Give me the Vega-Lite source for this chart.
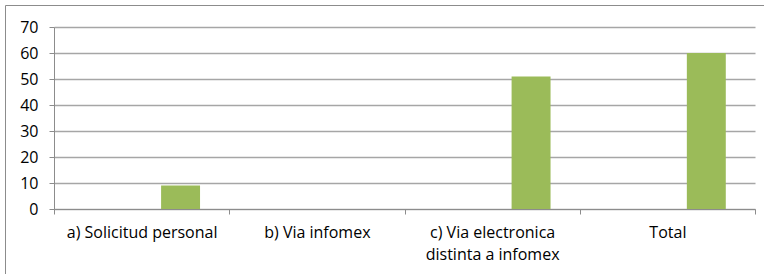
{
  "$schema": "https://vega.github.io/schema/vega-lite/v6.json",
  "autosize": "none",
  "padding": {"left": 5, "top": 5, "right": 0, "bottom": 0},
  "width": 775,
  "height": 285,
  "background": "white",
  "config": {
    "view": {"stroke": "#8c8c8c", "strokeWidth": 1},
    "font": "Open Sans"
  },
  "data": {
    "values": [
      {"categoria": "a) Solicitud personal", "serie": "s1", "valor": 0},
      {"categoria": "a) Solicitud personal", "serie": "s2", "valor": 0},
      {"categoria": "a) Solicitud personal", "serie": "s3", "valor": 9},
      {"categoria": "b) Via infomex", "serie": "s1", "valor": 0},
      {"categoria": "b) Via infomex", "serie": "s2", "valor": 0},
      {"categoria": "b) Via infomex", "serie": "s3", "valor": 0},
      {"categoria": "c) Via electronica distinta a infomex", "serie": "s1", "valor": 0},
      {"categoria": "c) Via electronica distinta a infomex", "serie": "s2", "valor": 0},
      {"categoria": "c) Via electronica distinta a infomex", "serie": "s3", "valor": 51},
      {"categoria": "Total", "serie": "s1", "valor": 0},
      {"categoria": "Total", "serie": "s2", "valor": 0},
      {"categoria": "Total", "serie": "s3", "valor": 60}
    ]
  },
  "mark": {"type": "bar"},
  "encoding": {
    "x": {
      "field": "categoria",
      "type": "nominal",
      "sort": null,
      "scale": {"range": [49, 750], "paddingInner": 0, "paddingOuter": 0},
      "axis": {
        "title": null,
        "offset": -81,
        "labelAngle": 0,
        "tickBand": "extent",
        "tickSize": 5,
        "tickColor": "#8c8c8c",
        "domainColor": "#8c8c8c",
        "labelColor": "#000000",
        "labelFontSize": 16,
        "labelPadding": 10,
        "labelLineHeight": 22,
        "labelBaseline": "top",
        "labelExpr": "datum.label == 'c) Via electronica distinta a infomex' ? ['c) Via electronica', 'distinta a infomex'] : datum.label",
        "grid": false
      }
    },
    "xOffset": {
      "field": "serie",
      "type": "nominal",
      "scale": {"domain": ["s1", "s2", "s3"], "paddingInner": 0, "paddingOuter": 0.75}
    },
    "y": {
      "field": "valor",
      "type": "quantitative",
      "scale": {"domain": [0, 70], "range": [204, 22], "nice": false},
      "axis": {
        "title": null,
        "offset": -49,
        "values": [0, 10, 20, 30, 40, 50, 60, 70],
        "tickSize": 5,
        "tickColor": "#8c8c8c",
        "domainColor": "#8c8c8c",
        "gridColor": "#a6a6a6",
        "gridWidth": 1.5,
        "labelColor": "#000000",
        "labelFontSize": 16,
        "labelPadding": 11
      }
    },
    "color": {
      "field": "serie",
      "type": "nominal",
      "scale": {"domain": ["s1", "s2", "s3"], "range": ["#4F81BD", "#C0504D", "#9BBB59"]},
      "legend": null
    }
  }
}
